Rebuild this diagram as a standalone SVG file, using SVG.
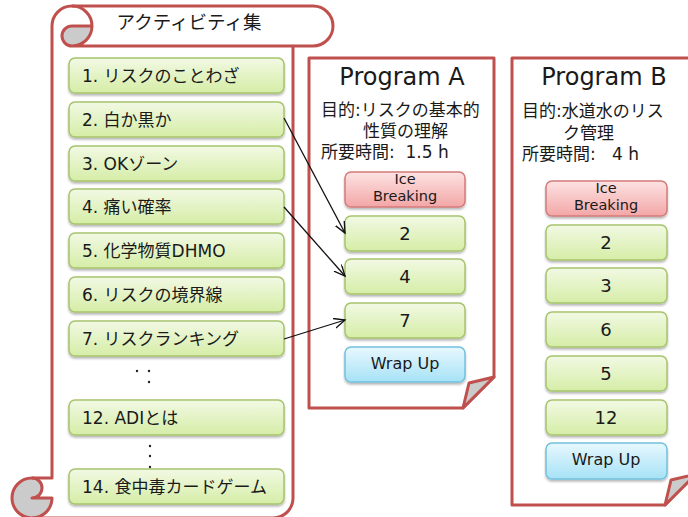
<svg xmlns="http://www.w3.org/2000/svg" width="688" height="517" viewBox="0 0 688 517">
<defs>
<linearGradient id="gG" x1="0" y1="0" x2="0" y2="1"><stop offset="0" stop-color="#F2F9E4"/><stop offset="1" stop-color="#D5EDA6"/></linearGradient>
<linearGradient id="gP" x1="0" y1="0" x2="0" y2="1"><stop offset="0" stop-color="#FDE3E3"/><stop offset="1" stop-color="#F3A6A6"/></linearGradient>
<linearGradient id="gB" x1="0" y1="0" x2="0" y2="1"><stop offset="0" stop-color="#E8F8FE"/><stop offset="1" stop-color="#A6E2F6"/></linearGradient>
<filter id="sh" x="-10%" y="-20%" width="120%" height="150%"><feDropShadow dx="0" dy="2" stdDeviation="1.2" flood-color="#000" flood-opacity="0.28"/></filter>
<marker id="ar" markerUnits="userSpaceOnUse" markerWidth="14" markerHeight="12" refX="11" refY="5" orient="auto"><path d="M0,0 L11,5 L0,10" fill="none" stroke="#111" stroke-width="1.3"/></marker>
</defs>
<style>
.fr{fill:#fff;stroke:#C0504D;stroke-width:3;stroke-linejoin:round}
.ln{fill:none;stroke:#C0504D;stroke-width:3;stroke-linejoin:round}
.dk{fill:#CBCBCB;stroke:none}
.fold{fill:#CBCBCB;stroke:#C0504D;stroke-width:3;stroke-linejoin:round}
.g{fill:url(#gG);stroke:#A6C46C;stroke-width:1.5;filter:url(#sh)}
.p{fill:url(#gP);stroke:#D47B79;stroke-width:1.5;filter:url(#sh)}
.b{fill:url(#gB);stroke:#72C1DD;stroke-width:1.5;filter:url(#sh)}
text{font-family:"DejaVu Sans","Noto Sans CJK JP",sans-serif;fill:#1a1a1a}
.lt{font-size:17px}
.ct{font-size:18px;text-anchor:middle}
.bt{font-size:16px;text-anchor:middle}
.ib{font-size:14.5px;text-anchor:middle}
.h{font-size:24px;text-anchor:middle}
.d{font-size:17px;white-space:pre}
.c{stroke:#111;stroke-width:1.3;fill:none;marker-end:url(#ar)}
</style>

<g id="scroll">
<path fill="#fff" d="M 32,518 A 20 20 0 0 0 52,498 L 32,498 A 10 10 0 0 1 32,478 L 52,478 L 52,26 A 20 20 0 0 1 72,6 L 313,6 A 20 20 0 0 1 313,46 L 293,46 L 293,498 A 20 20 0 0 1 273,518 Z"/>
<path class="dk" d="M 92,26 A 20 20 0 0 1 72,46 A 10 10 0 0 1 72,26 Z"/>
<path class="dk" d="M 52,498 A 20 20 0 1 1 32,478 A 10 10 0 0 1 32,498 Z"/>
<path class="ln" d="M 52,478 L 52,26 A 20 20 0 0 1 72,6 L 313,6 A 20 20 0 0 1 313,46 L 293,46 L 293,498 A 20 20 0 0 1 273,518 L 32,518 A 20 20 0 0 1 32,478 Z"/>
<path class="ln" d="M 72,6 A 20 20 0 0 1 72,46 A 10 10 0 0 1 72,26 L 92,26 M 293,46 L 72,46 M 32,478 A 10 10 0 0 1 32,498 L 52,498 M 32,518 A 20 20 0 0 0 52,498 L 32,498"/>
<text x="189" y="29" font-size="18.5" text-anchor="middle" fill="#333">アクティビティ集</text>
</g>

<g id="act1"><rect class="g" x="69" y="58" width="215" height="35" rx="6"/><text class="lt" x="82" y="81.5">1. リスクのことわざ</text></g>
<g id="act2"><rect class="g" x="69" y="102" width="215" height="35" rx="6"/><text class="lt" x="82" y="125.5">2. 白か黒か</text></g>
<g id="act3"><rect class="g" x="69" y="146" width="215" height="35" rx="6"/><text class="lt" x="82" y="169.5">3. OKゾーン</text></g>
<g id="act4"><rect class="g" x="69" y="189" width="215" height="35" rx="6"/><text class="lt" x="82" y="212.5">4. 痛い確率</text></g>
<g id="act5"><rect class="g" x="69" y="233" width="215" height="35" rx="6"/><text class="lt" x="82" y="256.5">5. 化学物質DHMO</text></g>
<g id="act6"><rect class="g" x="69" y="277" width="215" height="35" rx="6"/><text class="lt" x="82" y="300.5">6. リスクの境界線</text></g>
<g id="act7"><rect class="g" x="69" y="321" width="215" height="35" rx="6"/><text class="lt" x="82" y="344.5">7. リスクランキング</text></g>
<g id="dots1" fill="#222"><circle cx="137" cy="371" r="1.2"/><circle cx="149" cy="371" r="1.2"/><circle cx="149" cy="382" r="1.2"/></g>
<g id="act12"><rect class="g" x="69" y="400" width="215" height="35" rx="6"/><text class="lt" x="82" y="423.5">12. ADIとは</text></g>
<g id="dots2" fill="#222"><circle cx="150" cy="446" r="1.2"/><circle cx="150" cy="456" r="1.2"/><circle cx="150" cy="467" r="1.2"/></g>
<g id="act14"><rect class="g" x="69" y="469" width="215" height="35" rx="6"/><text class="lt" x="82" y="492.5">14. 食中毒カードゲーム</text></g>

<g id="programA">
<path class="fr" d="M 309,58 L 494,58 L 494,377 L 463,408 L 309,408 Z"/>
<path class="fold" d="M 463,408 L 469,383 L 494,377 Z"/>
<text class="h" x="402" y="85">Program A</text>
<text class="d" x="321" y="116">目的:リスクの基本的</text>
<text class="d" x="363" y="137">性質の理解</text>
<text class="d" x="321" y="158">所要時間:  1.5 h</text>
</g>
<g id="a-ice"><rect class="p" x="345" y="172" width="120" height="35" rx="6"/><text class="ib" x="405" y="184">Ice</text><text class="ib" x="405" y="200.5">Breaking</text></g>
<g id="a-2"><rect class="g" x="345" y="216" width="120" height="35" rx="6"/><text class="ct" x="405" y="239.5">2</text></g>
<g id="a-4"><rect class="g" x="345" y="259" width="120" height="35" rx="6"/><text class="ct" x="405" y="282.5">4</text></g>
<g id="a-7"><rect class="g" x="345" y="303" width="120" height="35" rx="6"/><text class="ct" x="405" y="326.5">7</text></g>
<g id="a-wrap"><rect class="b" x="345" y="347" width="120" height="35" rx="6"/><text class="bt" x="405" y="368.5">Wrap Up</text></g>

<g id="programB">
<path class="fr" d="M 512,58 L 696,58 L 696,474 L 665,505 L 512,505 Z"/>
<path class="fold" d="M 665,505 L 671,480 L 696,474 Z"/>
<text class="h" x="604" y="85">Program B</text>
<text class="d" x="522" y="117">目的:水道水のリス</text>
<text class="d" x="563" y="139">ク管理</text>
<text class="d" x="522" y="160">所要時間:   4 h</text>
</g>
<g id="b-ice"><rect class="p" x="546" y="181" width="121" height="35" rx="6"/><text class="ib" x="606" y="193">Ice</text><text class="ib" x="606" y="209.5">Breaking</text></g>
<g id="b-2"><rect class="g" x="546" y="225" width="121" height="35" rx="6"/><text class="ct" x="606" y="248.5">2</text></g>
<g id="b-3"><rect class="g" x="546" y="268" width="121" height="35" rx="6"/><text class="ct" x="606" y="291.5">3</text></g>
<g id="b-6"><rect class="g" x="546" y="312" width="121" height="35" rx="6"/><text class="ct" x="606" y="335.5">6</text></g>
<g id="b-5"><rect class="g" x="546" y="356" width="121" height="35" rx="6"/><text class="ct" x="606" y="379.5">5</text></g>
<g id="b-12"><rect class="g" x="546" y="400" width="121" height="35" rx="6"/><text class="ct" x="606" y="423.5">12</text></g>
<g id="b-wrap"><rect class="b" x="546" y="443" width="121" height="36" rx="6"/><text class="bt" x="606" y="465">Wrap Up</text></g>

<g id="connectors">
<path class="c" d="M 284,118 L 345,233"/>
<path class="c" d="M 284,207 L 345,276"/>
<path class="c" d="M 284,339 L 345,320"/>
</g>
</svg>
